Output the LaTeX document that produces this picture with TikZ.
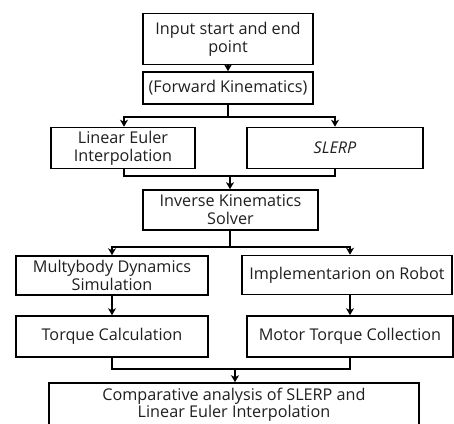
\documentclass[tikz,border=0pt]{standalone}
\usepackage{fontspec}
\setmainfont{Open Sans}
\usetikzlibrary{arrows.meta}
\begin{document}
\begin{tikzpicture}[x=1pt,y=-1pt,
  box/.style={draw=black, line width=1.6pt, rectangle, inner sep=0pt, align=center,
    text=black!88, font=\fontsize{16.2}{18}\selectfont},
  link/.style={line width=1.6pt},
  flow/.style={line width=1.6pt, -{Stealth[length=7pt,width=8pt,inset=2pt]}}]
\useasboundingbox (0,0) rectangle (454,423);

% process boxes
\node[box, minimum width=170pt, minimum height=51pt] (input) at (228,39) {Input start and end\\point};
\node[box, minimum width=170pt, minimum height=32pt] (fk) at (228,88) {(Forward Kinematics)};
\node[box, minimum width=144pt, minimum height=41pt] (lei) at (123,148) {Linear Euler\\Interpolation};
\node[box, minimum width=176pt, minimum height=41pt] (slerp) at (335,148) {\textit{SLERP}};
\node[box, minimum width=175pt, minimum height=40pt] (ik) at (230.5,210) {Inverse Kinematics\\Solver};
\node[box, minimum width=192pt, minimum height=39pt] (mbd) at (112,275.5) {Multybody Dynamics\\Simulation};
\node[box, minimum width=210pt, minimum height=39pt] (robot) at (347,275) {Implementarion on Robot};
\node[box, minimum width=192pt, minimum height=41pt] (torque) at (112,336.5) {Torque Calculation};
\node[box, minimum width=206pt, minimum height=41pt] (motor) at (350,336.5) {Motor Torque Collection};
\node[box, minimum width=370pt, minimum height=44pt, font=\fontsize{16.2}{17}\selectfont]
  (comp) at (234,405) {Comparative analysis of SLERP and\\Linear Euler Interpolation};

% junction points
\coordinate (j1) at (228,117);
\coordinate (j2) at (230,176);
\coordinate (j3) at (230,247);
\coordinate (j4) at (235,369);

% connectors
\draw[flow] (input) -- (fk);

\draw[link] (fk.south) -- (j1);
\draw[flow] (j1) -| (lei.north -| 124,0);
\draw[flow] (j1) -| (slerp.north);

\draw[link] (lei.south -| 124,0) |- (j2);
\draw[link] (slerp.south) |- (j2);
\draw[flow] (j2) -- (ik.north -| j2);

\draw[link] (ik.south -| j3) -- (j3);
\draw[flow] (j3) -| (mbd.north);
\draw[flow] (j3) -| (robot.north -| motor.north);

\draw[flow] (mbd) -- (torque);
\draw[flow] (robot.south -| motor.north) -- (motor.north);

\draw[link] (torque.south) |- (j4);
\draw[link] (motor.south) |- (j4);
\draw[flow] (j4) -- (comp.north -| j4);
\end{tikzpicture}
\end{document}
